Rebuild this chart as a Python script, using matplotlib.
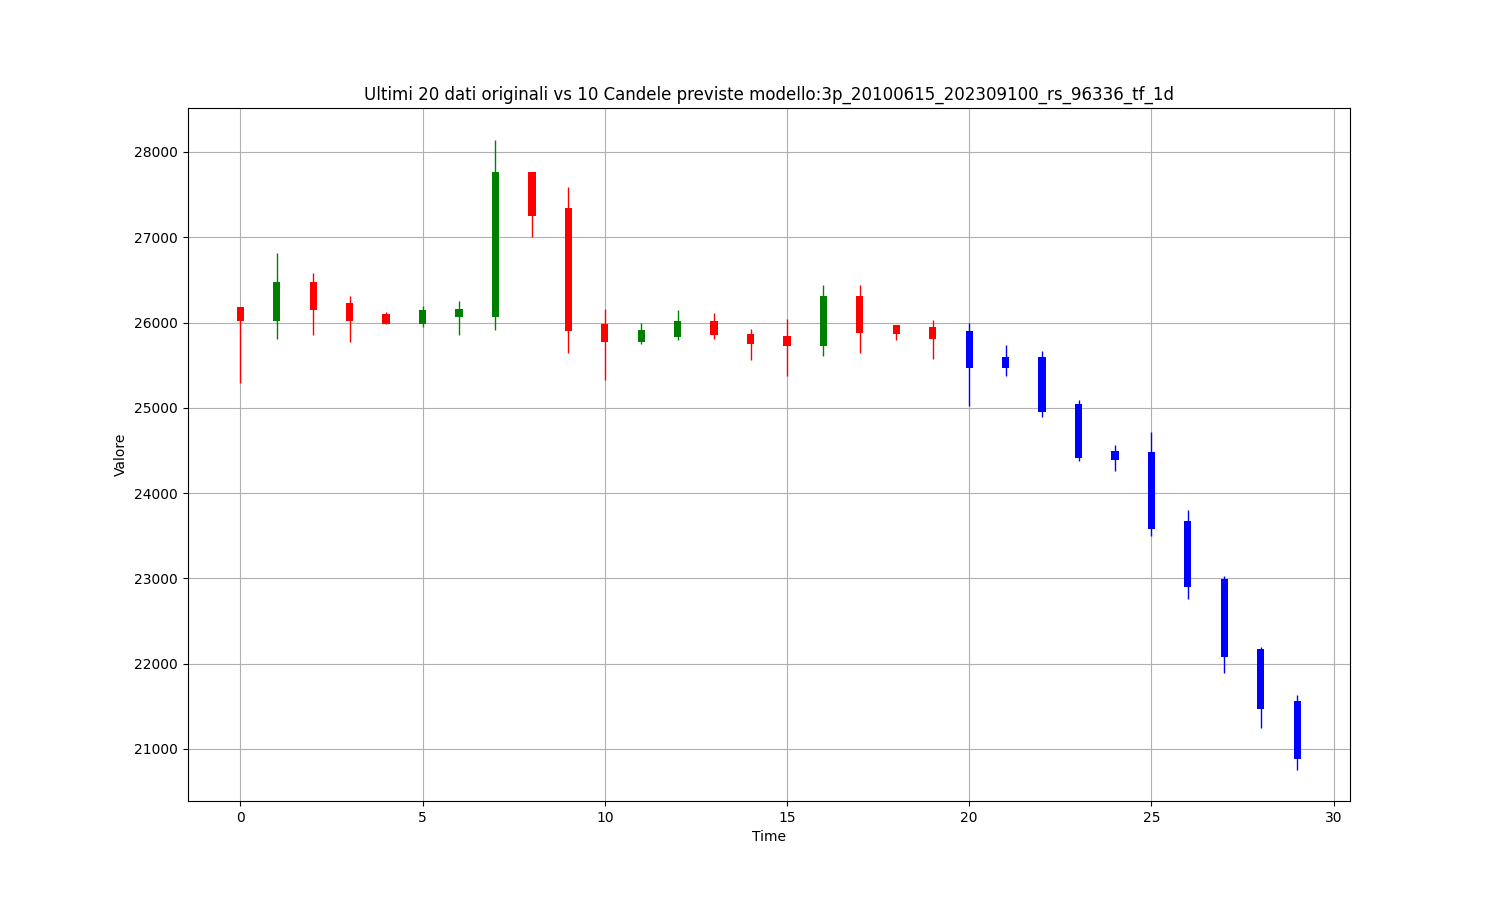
import matplotlib
matplotlib.use("Agg")
import matplotlib.pyplot as plt
import numpy as np

# Original candles (0-19) and predicted (20-29)
opens = [26176, 26012, 26480, 26234, 26105, 25977, 26059, 26070, 27770, 27348,
         25988, 25770, 25828, 26023, 25871, 25836, 25723, 26305, 25965, 25953,
         25898, 25592, 25592, 25039, 24498, 24480, 23672, 22992, 22172, 21562]
closes = [26012, 26480, 26141, 26012, 25977, 26152, 26164, 27770, 27254, 25895,
          25770, 25918, 26023, 25852, 25746, 25723, 26305, 25875, 25863, 25805,
          25467, 25467, 24949, 24408, 24384, 23582, 22902, 22082, 21473, 20887]
highs = [26176, 26820, 26586, 26316, 26129, 26188, 26258, 28145, 27770, 27594,
         26164, 25992, 26141, 26109, 25922, 26047, 26445, 26445, 25965, 26035,
         25992, 25737, 25663, 25090, 24561, 24715, 23805, 23027, 22195, 21633]
lows = [25285, 25801, 25859, 25770, 25977, 25953, 25859, 25918, 27008, 25648,
        25322, 25746, 25793, 25805, 25559, 25371, 25605, 25641, 25793, 25570,
        25016, 25373, 24890, 24373, 24255, 23500, 22762, 21895, 21246, 20758]
n_original = 20

x = np.arange(len(opens))
fig, ax = plt.subplots(figsize=(15, 9), dpi=100)

colors = []
for i in range(len(opens)):
    if i >= n_original:
        colors.append('blue')
    elif closes[i] >= opens[i]:
        colors.append('green')
    else:
        colors.append('red')

o = np.array(opens); c = np.array(closes)
ax.vlines(x, lows, highs, colors=colors, linewidth=1, zorder=2)
ax.bar(x, np.abs(c - o), bottom=np.minimum(o, c), width=0.2, color=colors, zorder=3)

ax.set_xlim(-1.45, 30.45)
ax.set_xticks([0, 5, 10, 15, 20, 25, 30])
ax.grid(True)
ax.set_axisbelow(True)
ax.set_title("Ultimi 20 dati originali vs 10 Candele previste modello:3p_20100615_202309100_rs_96336_tf_1d")
ax.set_xlabel("Time")
ax.set_ylabel("Valore")
ax.set_ylim(20390, 28515)

fig.savefig("out.png", dpi=100)
